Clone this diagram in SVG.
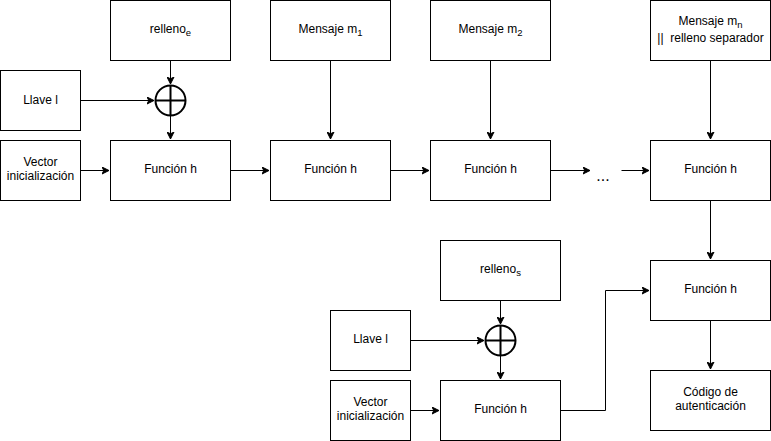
<svg xmlns="http://www.w3.org/2000/svg" width="771" height="441" viewBox="0 0 771 441">
<style>
.box{fill:#fff;stroke:#000;stroke-width:1}
.t{font-family:"Liberation Sans",Arial,sans-serif;font-size:12px;fill:#000;text-anchor:middle}
.sub{font-size:9.5px}
.c{fill:none;stroke:#000;stroke-width:1}
.x{fill:#fff;stroke:#000;stroke-width:2}
</style>
<defs>
<marker id="a" viewBox="0 0 8 8" markerWidth="8" markerHeight="8" refX="7.5" refY="4" orient="auto" markerUnits="userSpaceOnUse">
<path d="M0.5,0.5 L7.5,4 L0.5,7.5 L2.3,4 Z" fill="#000" stroke="#000" stroke-width="1"/>
</marker>
</defs>
<rect width="771" height="441" fill="#fff"/>
<g id="connectors">
<path class="c" d="M170.5,60.5 V84" marker-end="url(#a)"/>
<path class="c" d="M80.5,100.5 H154" marker-end="url(#a)"/>
<path class="c" d="M170.5,115.5 V139" marker-end="url(#a)"/>
<path class="c" d="M80.5,170.5 H109" marker-end="url(#a)"/>
<path class="c" d="M230.5,170.5 H269" marker-end="url(#a)"/>
<path class="c" d="M330.5,60.5 V139" marker-end="url(#a)"/>
<path class="c" d="M390.5,170.5 H429" marker-end="url(#a)"/>
<path class="c" d="M490.5,60.5 V139" marker-end="url(#a)"/>
<path class="c" d="M550.5,170.5 H590" marker-end="url(#a)"/>
<path class="c" d="M621.5,170.5 H649" marker-end="url(#a)"/>
<path class="c" d="M710.5,60.5 V139" marker-end="url(#a)"/>
<path class="c" d="M710.5,200.5 V259" marker-end="url(#a)"/>
<path class="c" d="M710.5,320.5 V369" marker-end="url(#a)"/>
<path class="c" d="M500.5,300.5 V324" marker-end="url(#a)"/>
<path class="c" d="M410.5,340.5 H484" marker-end="url(#a)"/>
<path class="c" d="M500.5,355.5 V379" marker-end="url(#a)"/>
<path class="c" d="M410.5,410.5 H439" marker-end="url(#a)"/>
<path class="c" d="M560.5,410.5 H605.5 V290.5 H649" marker-end="url(#a)"/>
</g>
<g id="rellenoE"><rect class="box" x="110.5" y="0.5" width="120" height="60"/><text class="t" x="170.5" y="33">relleno<tspan class="sub" dy="3">e</tspan></text></g>
<g id="llave1"><rect class="box" x="0.5" y="70.5" width="80" height="60"/><text class="t" x="40.5" y="104">Llave l</text></g>
<g id="xor1"><circle class="x" cx="170.5" cy="100.5" r="15"/><path d="M155.5,100.5 H185.5 M170.5,85.5 V115.5" stroke="#000" stroke-width="2"/></g>
<g id="vector1"><rect class="box" x="0.5" y="140.5" width="80" height="60"/><text class="t" x="40.5" y="166">Vector</text><text class="t" x="40.5" y="180">inicialización</text></g>
<g id="func1"><rect class="box" x="110.5" y="140.5" width="120" height="60"/><text class="t" x="170.5" y="173">Función h</text></g>
<g id="msg1"><rect class="box" x="270.5" y="0.5" width="120" height="60"/><text class="t" x="330.5" y="33">Mensaje m<tspan class="sub" dy="3">1</tspan></text></g>
<g id="func2"><rect class="box" x="270.5" y="140.5" width="120" height="60"/><text class="t" x="330.5" y="173">Función h</text></g>
<g id="msg2"><rect class="box" x="430.5" y="0.5" width="120" height="60"/><text class="t" x="490.5" y="33">Mensaje m<tspan class="sub" dy="3">2</tspan></text></g>
<g id="func3"><rect class="box" x="430.5" y="140.5" width="120" height="60"/><text class="t" x="490.5" y="173">Función h</text></g>
<g id="dots"><text class="t" x="603" y="181" style="font-size:16px">...</text></g>
<g id="msgN"><rect class="box" x="650.5" y="0.5" width="120" height="60"/><text class="t" x="710.5" y="25">Mensaje m<tspan class="sub" dy="3">n</tspan></text><text class="t" x="710.5" y="42" xml:space="preserve">||  relleno separador</text></g>
<g id="func4"><rect class="box" x="650.5" y="140.5" width="120" height="60"/><text class="t" x="710.5" y="173">Función h</text></g>
<g id="func5"><rect class="box" x="650.5" y="260.5" width="120" height="60"/><text class="t" x="710.5" y="293">Función h</text></g>
<g id="codigo"><rect class="box" x="650.5" y="370.5" width="120" height="60"/><text class="t" x="710.5" y="396">Código de</text><text class="t" x="710.5" y="410">autenticación</text></g>
<g id="rellenoS"><rect class="box" x="440.5" y="240.5" width="120" height="60"/><text class="t" x="500.5" y="273">relleno<tspan class="sub" dy="3">s</tspan></text></g>
<g id="llave2"><rect class="box" x="330.5" y="310.5" width="80" height="60"/><text class="t" x="370.5" y="343">Llave l</text></g>
<g id="xor2"><circle class="x" cx="500.5" cy="340.5" r="15"/><path d="M485.5,340.5 H515.5 M500.5,325.5 V355.5" stroke="#000" stroke-width="2"/></g>
<g id="vector2"><rect class="box" x="330.5" y="380.5" width="80" height="60"/><text class="t" x="370.5" y="406">Vector</text><text class="t" x="370.5" y="420">inicialización</text></g>
<g id="func6"><rect class="box" x="440.5" y="380.5" width="120" height="60"/><text class="t" x="500.5" y="413">Función h</text></g>
</svg>
